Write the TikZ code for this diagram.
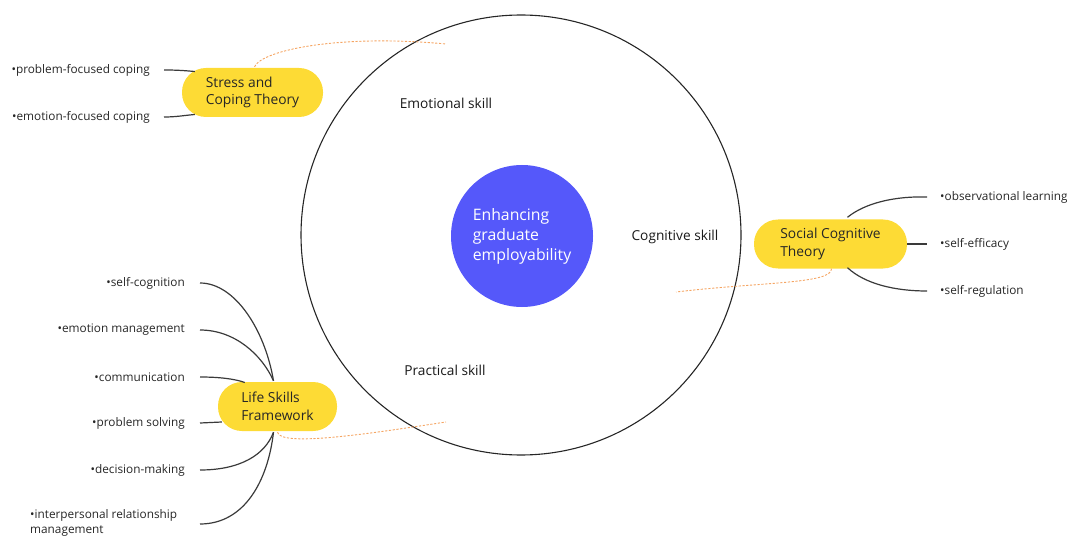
\documentclass[tikz,border=0pt]{standalone}
\usepackage{fontspec}
\setmainfont{Open Sans}
\usetikzlibrary{calc}
\definecolor{pillyellow}{HTML}{FDDB35}
\definecolor{coreblue}{HTML}{5558FA}
\definecolor{dashorange}{HTML}{F5A563}
\definecolor{linegray}{HTML}{3A3A3A}
\tikzset{
  pill/.style={fill=pillyellow, rounded corners=24pt, minimum height=49pt, inner sep=0pt, align=left,
    font=\fontsize{13.8}{17.5}\selectfont, text=black!85},
  leaf/.style={inner sep=0pt, font=\fontsize{11.8}{15}\selectfont, text=black!85},
  skill/.style={inner sep=0pt, font=\fontsize{13.7}{15}\selectfont, text=black!90},
  branch/.style={draw=linegray, line width=1.2pt},
  link/.style={draw=dashorange, line width=0.9pt, dash pattern=on 2.2pt off 1.6pt},
}
\begin{document}
\begin{tikzpicture}[x=1pt,y=-1pt]
\useasboundingbox (0,0) rectangle (1067,537);
% big circle
\node[circle, draw=black!85, line width=1.1pt, minimum size=440pt, inner sep=0pt] (big) at (521,235) {};
% core
\node[circle, fill=coreblue, minimum size=142pt, inner sep=0pt, text=white, align=left,
  font=\fontsize{15.8}{20}\selectfont] (core) at (522,236) {Enhancing\\graduate\\employability};
% skills
\node[skill] (emo) at (446,103) {Emotional skill};
\node[skill] (cog) at (675,237) {Cognitive skill};
\node[skill] (pra) at (445,370) {Practical skill};
% pills
\node[pill, minimum width=141pt] (stress) at (252.5,92.5) {Stress and\\Coping Theory};
\node[pill, minimum width=153pt] (social) at (830.5,244) {Social Cognitive\\Theory};
\node[pill, minimum width=119pt] (life) at (277.5,406.5) {Life Skills\\Framework};
% stress leaves
\node[leaf, anchor=east] (pfc) at (150,70) {•problem-focused coping};
\node[leaf, anchor=east] (efc) at (150,117) {•emotion-focused coping};
\draw[branch] ([xshift=14pt]pfc.east) to[out=0,in=175] ($(stress.west)+(13,-21)$);
\draw[branch] ([xshift=14pt]efc.east) to[out=0,in=-175] ($(stress.west)+(13,22)$);
% social leaves
\node[leaf, anchor=west] (obs) at (940,197) {•observational learning};
\node[leaf, anchor=west] (eff) at (940,244) {•self-efficacy};
\node[leaf, anchor=west] (reg) at (940,291) {•self-regulation};
\draw[branch] ($(social.north)+(17,-2)$) .. controls (865,203) and (895,196) .. ([xshift=-13pt]obs.west);
\draw[branch] (social.east) -- ([xshift=-13pt]eff.west);
\draw[branch] ($(social.south)+(17,-1)$) .. controls (865,284) and (895,291) .. ([xshift=-13pt]reg.west);
% life leaves
\node[leaf, anchor=east] (sc) at (185,283) {•self-cognition};
\node[leaf, anchor=east] (em) at (185,330) {•emotion management};
\node[leaf, anchor=east] (com) at (185,377) {•communication};
\node[leaf, anchor=east] (ps) at (185,423) {•problem solving};
\node[leaf, anchor=east] (dm) at (185,470) {•decision-making};
\node[leaf, anchor=north west, align=left] (ir) at (30,509) {•interpersonal relationship\\management};
\coordinate (irend) at (200,524);
\coordinate (ltop) at ($(life.north)+(-4,-1)$);
\coordinate (lbot) at ($(life.south)+(-4,1)$);
\draw[branch] ([xshift=15pt]sc.east) .. controls (235,283) and (265,330) .. (ltop);
\draw[branch] ([xshift=15pt]em.east) .. controls (235,330) and (262,355) .. (ltop);
\draw[branch] ([xshift=15pt]com.east) .. controls (220,377) and (235,379) .. ($(life.west)+(27,-24)$);
\draw[branch] ([xshift=15pt]ps.east) -- ($(life.west)+(4,15.5)$);
\draw[branch] ([xshift=15pt]dm.east) .. controls (240,470) and (265,455) .. (lbot);
\draw[branch] (irend) .. controls (245,524) and (268,480) .. (lbot);
% dashed links
\draw[link] ($(stress.north)+(2,-1)$) .. controls (262,50) and (340,34) .. ($(big.center)+(-75,-191)$);
\draw[link] ($(social.south)+(1,0)$) .. controls (832,284) and (760,282) .. ($(big.center)+(155,57)$);
\draw[link] ($(life.south)+(0,1)$) .. controls (280,448) and (380,432) .. ($(big.center)+(-75,187)$);
\end{tikzpicture}
\end{document}
